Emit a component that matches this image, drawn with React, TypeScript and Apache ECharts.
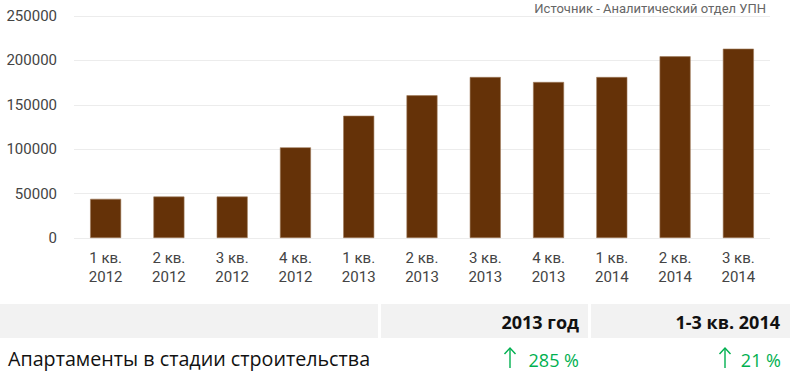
import React, { useEffect, useRef } from "react";
import * as echarts from "echarts";

const quarters = ["1 кв.", "2 кв.", "3 кв.", "4 кв.", "1 кв.", "2 кв.", "3 кв.", "4 кв.", "1 кв.", "2 кв.", "3 кв."];
const years = ["2012", "2012", "2012", "2012", "2013", "2013", "2013", "2013", "2014", "2014", "2014"];
const values = [44100, 46700, 46700, 102100, 137700, 160700, 181300, 175700, 181300, 204600, 213200];
const yTicks = [0, 50000, 100000, 150000, 200000, 250000];

const sourceText = "Источник - Аналитический отдел УПН";
const tableHeaders = ["2013 год", "1-3 кв. 2014"];
const rowLabel = "Апартаменты в стадии строительства";
const rowValues = ["285 %", "21 %"];

function arrow(cx: number, color: string) {
  return {
    type: "group",
    children: [
      { type: "line", shape: { x1: cx, y1: 348, x2: cx, y2: 368 }, style: { stroke: color, lineWidth: 1.4 } },
      {
        type: "polyline",
        shape: { points: [[cx - 5.5, 354], [cx, 348], [cx + 5.5, 354]] },
        style: { stroke: color, lineWidth: 1.4, fill: null },
      },
    ],
  };
}

export default function App() {
  const ref = useRef<HTMLDivElement>(null);
  useEffect(() => {
    document.body.style.margin = "0";
    if (!ref.current) return;
    const chart = echarts.init(ref.current, undefined, { renderer: "svg" });
    const categories = quarters.map((q, i) => `${q}\n${years[i]}`);
    const green = "#00b050";
    const tableFont = "'Open Sans', 'Noto Sans', sans-serif";
    chart.setOption({
      animation: false,
      backgroundColor: "#ffffff",
      grid: { left: 74, right: 41, top: 16, height: 222 },
      xAxis: {
        type: "category",
        data: categories,
        axisLine: { show: false },
        axisTick: { show: false },
        axisLabel: {
          fontFamily: "Roboto, sans-serif",
          fontSize: 15,
          lineHeight: 19,
          color: "#444444",
          margin: 10,
        },
      },
      yAxis: {
        type: "value",
        min: yTicks[0],
        max: yTicks[yTicks.length - 1],
        interval: yTicks[1] - yTicks[0],
        axisLine: { show: false },
        axisTick: { show: false },
        splitLine: { lineStyle: { color: "#ececec", width: 1 } },
        axisLabel: {
          fontFamily: "Roboto, sans-serif",
          fontSize: 15,
          color: "#444444",
          margin: 17,
          formatter: (v: number) => String(v),
        },
      },
      series: [
        {
          type: "bar",
          data: values,
          barWidth: 31,
          itemStyle: { color: "#653208", borderColor: "#a07a5a", borderWidth: 0.6 },
        },
      ],
      graphic: [
        {
          type: "text",
          x: 766,
          y: 8,
          style: {
            text: sourceText,
            align: "right",
            verticalAlign: "middle",
            fontFamily: "Roboto, sans-serif",
            fontSize: 13,
            fill: "#666666",
          },
        },
        { type: "rect", shape: { x: 0, y: 304, width: 378, height: 34 }, style: { fill: "#f2f2f2" } },
        { type: "rect", shape: { x: 381, y: 304, width: 207, height: 34 }, style: { fill: "#f2f2f2" } },
        { type: "rect", shape: { x: 591, y: 304, width: 199, height: 34 }, style: { fill: "#f2f2f2" } },
        {
          type: "text",
          x: 579,
          y: 322,
          style: {
            text: tableHeaders[0],
            align: "right",
            verticalAlign: "middle",
            fontFamily: tableFont,
            fontWeight: "bold",
            fontSize: 18,
            fill: "#111111",
          },
        },
        {
          type: "text",
          x: 780,
          y: 322,
          style: {
            text: tableHeaders[1],
            align: "right",
            verticalAlign: "middle",
            fontFamily: tableFont,
            fontWeight: "bold",
            fontSize: 18,
            fill: "#111111",
          },
        },
        {
          type: "text",
          x: 8,
          y: 358,
          style: {
            text: rowLabel,
            align: "left",
            verticalAlign: "middle",
            fontFamily: tableFont,
            fontSize: 19.7,
            fill: "#111111",
          },
        },
        {
          type: "text",
          x: 579,
          y: 360,
          style: {
            text: rowValues[0],
            align: "right",
            verticalAlign: "middle",
            fontFamily: tableFont,
            fontSize: 18,
            fill: green,
          },
        },
        {
          type: "text",
          x: 781,
          y: 360,
          style: {
            text: rowValues[1],
            align: "right",
            verticalAlign: "middle",
            fontFamily: tableFont,
            fontSize: 18,
            fill: green,
          },
        },
        arrow(510, green),
        arrow(725, green),
      ],
    });
    return () => chart.dispose();
  }, []);
  return <div ref={ref} style={{ position: "absolute", left: 0, top: 0, width: 811, height: 381 }} />;
}
